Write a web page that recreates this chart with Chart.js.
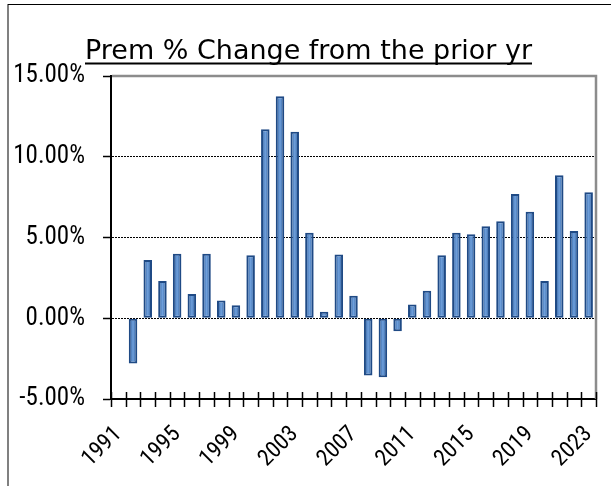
<!DOCTYPE html>
<html><head><meta charset="utf-8">
<script src="https://cdn.jsdelivr.net/npm/chart.js@4"></script>
<style>html,body{margin:0;padding:0;background:#fff}#wrap{width:611px;height:486px;position:relative}canvas{display:block}</style>
</head><body><div id="wrap"><canvas id="c" width="611" height="486"></canvas></div>
<span style="font-family:'Roboto Condensed';position:absolute;left:-999px">0</span>
<span style="font-family:'DejaVu Sans';position:absolute;left:-999px">0</span>
<script>
const years = ['1991','1992','1993','1994','1995','1996','1997','1998','1999','2000','2001','2002','2003','2004','2005','2006','2007','2008','2009','2010','2011','2012','2013','2014','2015','2016','2017','2018','2019','2020','2021','2022','2023'];
const premChange = [null,-2.8,3.6,2.3,4.0,1.5,4.0,1.1,0.8,3.9,11.7,13.75,11.55,5.3,0.4,3.95,1.4,-3.55,-3.65,-0.8,0.85,1.7,3.9,5.3,5.2,5.7,6.0,7.7,6.6,2.3,8.85,5.4,7.8];
const yTicks = [-5,0,5,10,15];
const labelEvery = 4;
const titleText = 'Prem % Change from the prior yr';
const tickFont = "'Roboto Condensed', 'Liberation Sans', sans-serif";

const decor = {
  id:'decor',
  beforeDraw(chart){
    const ctx = chart.ctx;
    ctx.save(); ctx.fillStyle='#fff'; ctx.fillRect(0,0,chart.width,chart.height); ctx.restore();
  },
  afterDraw(chart){
    const ctx = chart.ctx, a = chart.chartArea, xs = chart.scales.x;
    ctx.save();
    ctx.fillStyle='#808080'; ctx.fillRect(7,4,2,chart.height-4);
    ctx.fillStyle='#000'; ctx.fillRect(8,4,chart.width-8,1);
    ctx.strokeStyle='#8c8c8c'; ctx.lineWidth=2.5;
    ctx.beginPath(); ctx.moveTo(a.left+1,a.top); ctx.lineTo(a.right,a.top); ctx.lineTo(a.right,a.bottom); ctx.stroke();
    const step = xs.getPixelForValue(1)-xs.getPixelForValue(0);
    ctx.strokeStyle='#000'; ctx.lineWidth=1.5;
    ctx.beginPath();
    for(let i=0;i<=years.length;i++){
      const x = Math.round(xs.getPixelForValue(0)-step/2+i*step)+0.5;
      ctx.moveTo(x,a.bottom-7); ctx.lineTo(x,a.bottom+8);
    }
    ctx.stroke();
    ctx.font = '27px "DejaVu Sans", Verdana, sans-serif';
    ctx.fillStyle='#000'; ctx.textBaseline='alphabetic'; ctx.textAlign='left';
    const w = ctx.measureText(titleText).width;
    const tx=85, tw=447;
    ctx.save(); ctx.translate(tx,58.5); ctx.scale(tw/w,1); ctx.fillText(titleText,0,0); ctx.restore();
    ctx.fillRect(tx,62.5,tw,2);
    ctx.restore();
  }
};

function draw(){
  new Chart(document.getElementById('c'),{
    type:'bar',
    data:{labels:years,datasets:[{
      data:premChange,
      borderColor:'#1f4a85',
      borderWidth:2,
      borderSkipped:false,
      categoryPercentage:1,
      barPercentage:0.58,
      backgroundColor:(c)=>{
        const ch=c.chart, xs=ch.scales && ch.scales.x;
        if(!ch.chartArea||!xs) return '#4f81bd';
        const xc=xs.getPixelForValue(c.dataIndex);
        const g=ch.ctx.createLinearGradient(xc-2.5,0,xc+2.5,0);
        g.addColorStop(0,'#4272b0'); g.addColorStop(0.5,'#6fa0dc'); g.addColorStop(1,'#4272b0');
        return g;
      }
    }]},
    plugins:[decor],
    options:{
      responsive:false,
      animation:false,
      layout:{padding:{left:0,right:15,top:76,bottom:0}},
      plugins:{legend:{display:false},title:{display:false},tooltip:{enabled:false}},
      scales:{
        x:{
          offset:true,
          grid:{display:false},
          border:{display:true,color:'#000',width:2},
          ticks:{autoSkip:false,maxRotation:45,minRotation:45,padding:14,color:'#000',
            font:{family:tickFont,size:23},
            callback:function(v,i){return (i%labelEvery===0)?years[i]:'';}},
          afterFit:(s)=>{s.height=87; s.paddingLeft=0; s.paddingRight=0;}
        },
        y:{
          min:-5,max:15,
          afterBuildTicks:(s)=>{s.ticks=yTicks.map(v=>({value:v}));},
          grid:{color:(c)=>(c.tick&&(c.tick.value===-5||c.tick.value===15))?'rgba(0,0,0,0)':'#000',
                lineWidth:1,tickLength:8,tickColor:'#000',tickWidth:1.5},
          border:{display:true,color:'#000',width:2,dash:[2,1]},
          ticks:{padding:18,color:'#000',font:{family:tickFont,size:25},
            callback:(v)=>Number(v).toFixed(2)+'%'},
          afterFit:(s)=>{s.width=111; s.paddingTop=0; s.paddingBottom=0;}
        }
      }
    }
  });
}
const loads = ["25px 'Roboto Condensed'","27px 'DejaVu Sans'"].map(f=>document.fonts.load(f).catch(()=>null));
Promise.all(loads).then(()=>document.fonts.ready).then(draw, draw);
</script></body></html>
